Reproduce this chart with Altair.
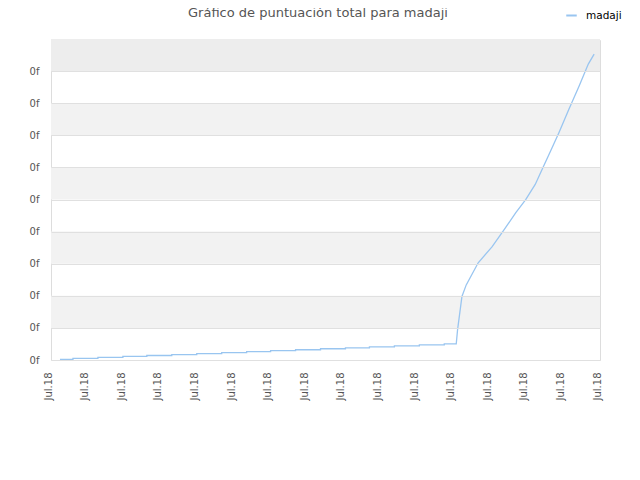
import altair as alt
import pandas as pd

# Step portion (x in axis units, y in grid units)
step_x = [0.245, 0.600, 1.282, 1.964, 2.618, 3.300, 3.982, 4.664, 5.345, 6.000,
          6.682, 7.364, 8.045, 8.700, 9.382, 10.064, 10.745, 11.072]
step_y = [0.02, 0.05, 0.08, 0.11, 0.14, 0.17, 0.20, 0.23, 0.26, 0.29,
          0.32, 0.35, 0.38, 0.41, 0.44, 0.47, 0.50]
# Rising portion
rise_x = [11.108, 11.228, 11.345, 11.672, 12.054, 12.381, 12.70, 12.97, 13.23,
          13.42, 13.65, 13.88, 14.15, 14.43, 14.68, 14.84]
rise_y = [0.94, 1.98, 2.34, 3.03, 3.53, 4.06, 4.59, 5.00, 5.47,
          5.94, 6.51, 7.09, 7.81, 8.54, 9.22, 9.53]

x_ticks = list(range(16))
x_labels = ["Jul.18"] * 16
y_ticks = list(range(10))
y_labels = ["0f"] * 10
series_name = "madaji"
title_text = ["Gráfico de puntuación total para madaji"]

band_lo = [1, 3, 5, 7, 9]
band_hi = [2, 4, 6, 8, 10]
band_col = ["#f2f2f2", "#f2f2f2", "#f2f2f2", "#f2f2f2", "#ededed"]

pts = []
order = 0
for i in range(len(step_y)):
    pts.append({"x": step_x[i], "y": step_y[i], "o": order, "s": series_name}); order += 1
    pts.append({"x": step_x[i + 1], "y": step_y[i], "o": order, "s": series_name}); order += 1
for xv, yv in zip(rise_x, rise_y):
    pts.append({"x": xv, "y": yv, "o": order, "s": series_name}); order += 1
df = pd.DataFrame(pts)

bands = pd.DataFrame({"lo": band_lo, "hi": band_hi, "c": band_col})
title_df = pd.DataFrame({"t": title_text})

xscale = alt.Scale(domain=[0, 15], nice=False, zero=False)
yscale = alt.Scale(domain=[0, 9.97], nice=False, zero=False)

yaxis = alt.Axis(values=y_ticks, labelExpr="'" + y_labels[0] + "'", title=None,
                 grid=True, gridColor="#e0e0e0", domain=False, ticks=False,
                 labelOverlap=False, zindex=1,
                 labelFont="DejaVu Sans", labelFontSize=10, labelColor="#555555",
                 labelPadding=12)

band_layer = alt.Chart(bands).mark_rect().encode(
    x=alt.value(0), x2=alt.value(549),
    y=alt.Y("lo:Q", scale=yscale, axis=yaxis),
    y2="hi:Q",
    fill=alt.Fill("c:N", scale=None, legend=None),
)

line = alt.Chart(df).mark_line(strokeWidth=1.3).encode(
    x=alt.X("x:Q", scale=xscale,
            axis=alt.Axis(values=x_ticks, labelExpr="'" + x_labels[0] + "'", labelAngle=-90,
                          labelBaseline="alphabetic", labelAlign="right",
                          title=None, grid=False, domain=False, ticks=False,
                          labelFont="DejaVu Sans", labelFontSize=10, labelColor="#555555",
                          labelPadding=12, labelOverlap=False, labelBound=False, labelFlush=False)),
    y=alt.Y("y:Q", scale=yscale, axis=yaxis),
    order="o:Q",
    color=alt.Color("s:N", scale=alt.Scale(range=["#99c5f0"]),
                    legend=alt.Legend(title=None, orient="none", legendX=514, legendY=-31,
                                      symbolType="stroke", symbolSize=110, symbolStrokeWidth=2,
                                      labelOffset=8,
                                      labelFont="DejaVu Sans", labelFontSize=10.5,
                                      labelColor="#000000")),
)

title_layer = alt.Chart(title_df).mark_text(
    font="DejaVu Sans", fontSize=13, color="#555555", align="center", baseline="middle"
).encode(text="t:N", x=alt.value(267), y=alt.value(-27))

chart = alt.layer(band_layer, line, title_layer).properties(
    width=549, height=320,
    autosize=alt.AutoSizeParams(type="none"),
    padding={"left": 43, "top": 32, "right": 32, "bottom": 72},
).configure_view(stroke="#dddddd").configure(background="white")

chart.save("out.html", embed_options={"renderer": "svg", "actions": False})
